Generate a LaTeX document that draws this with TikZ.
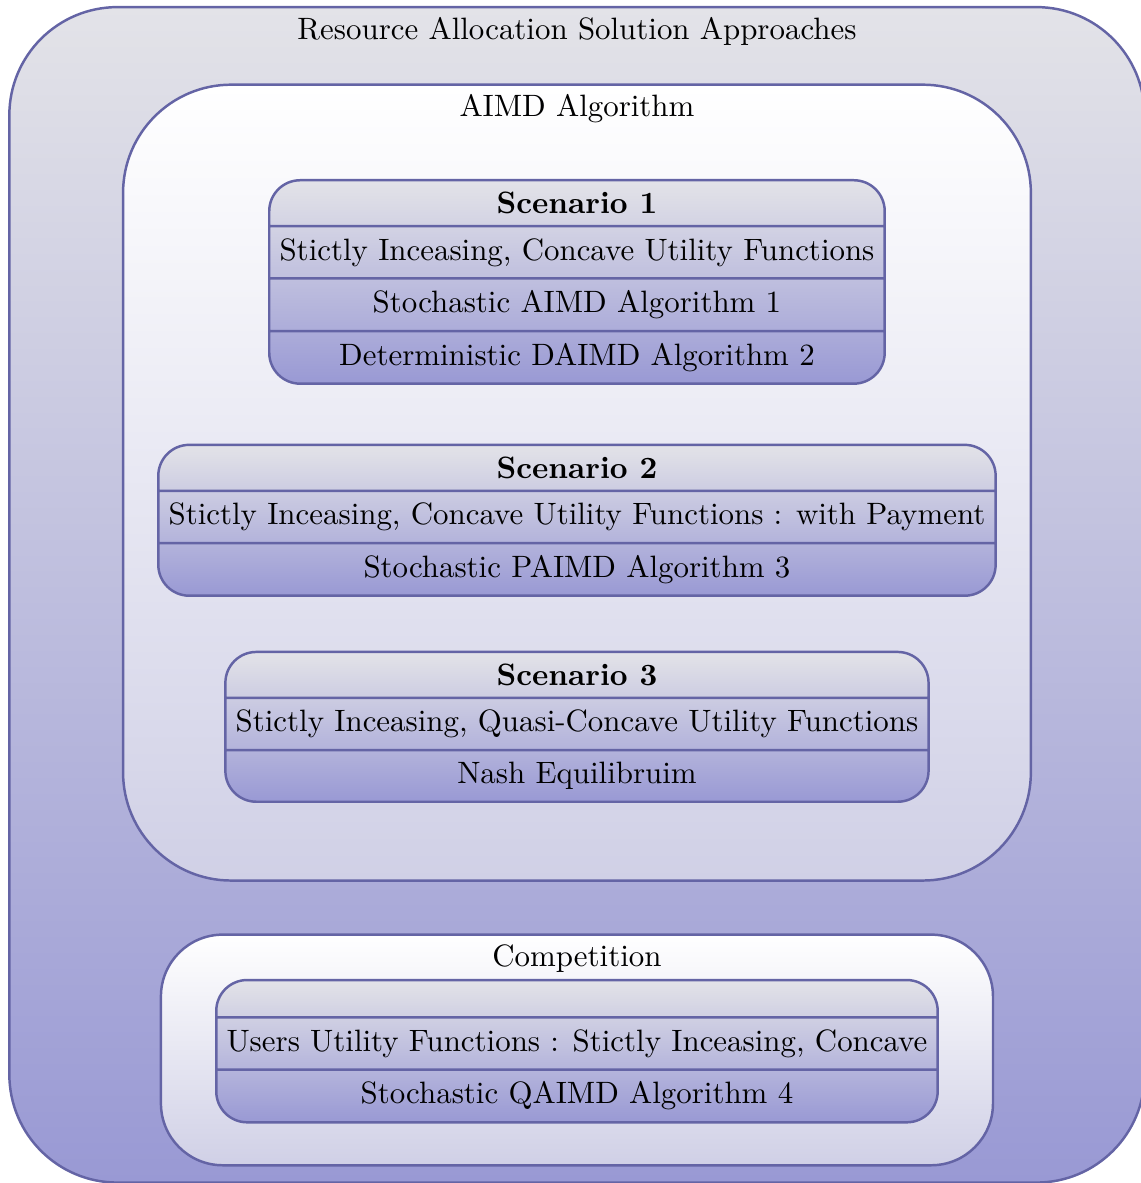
\documentclass[tikz,border=0pt]{standalone}
\usepackage{tikz}
\usetikzlibrary{positioning,fit,shapes.multipart}

\definecolor{boxtop}{RGB}{227,227,232}
\definecolor{boxbottom}{RGB}{153,153,212}
\definecolor{groupbottom}{RGB}{208,208,230}
\definecolor{boxline}{RGB}{100,100,165}

\pgfdeclarelayer{back}
\pgfdeclarelayer{mid}
\pgfsetlayers{back,mid,main}

\tikzset{
  scenario/.style={rectangle split, rectangle split parts=4, draw=boxline, thick,
    rounded corners=10pt, top color=boxtop, bottom color=boxbottom, inner ysep=3.5pt},
  group/.style={draw=boxline, thick, top color=white, bottom color=groupbottom, inner ysep=2.9pt},
  grouptitle/.style={inner sep=0pt}
}

\begin{document}
\begin{tikzpicture}[node distance=19pt]
\node[scenario] (sc_1) {\textbf{Scenario 1}
  \nodepart{two} Stictly Inceasing, Concave Utility Functions
  \nodepart{three} Stochastic AIMD Algorithm 1
  \nodepart{four} Deterministic DAIMD Algorithm 2};
\node[scenario, rectangle split parts=3] (sc_2) [below=of sc_1] {\textbf{Scenario 2}
  \nodepart{two} Stictly Inceasing, Concave Utility Functions : with Payment
  \nodepart{three} Stochastic PAIMD Algorithm 3};
\node[scenario, rectangle split parts=3] (sc_3) [below=17.4pt of sc_2] {\textbf{Scenario 3}
  \nodepart{two} Stictly Inceasing, Quasi-Concave Utility Functions
  \nodepart{three} Nash Equilibruim};
\node[grouptitle] (t_aimd) [above=18pt of sc_1] {AIMD Algorithm};
\coordinate[below=22.2pt of sc_3] (f_aimd);
\begin{pgfonlayer}{mid}
\node[group, rounded corners=35pt, inner xsep=11pt, fit=(t_aimd)(sc_2)(f_aimd)] (aimd) {};
\end{pgfonlayer}

% competition
\node[grouptitle] (t_comp) [below=20pt of aimd] {Competition};
\node[scenario, rectangle split parts=3] (sc_4) [below=2pt of t_comp] {
  \nodepart{two} Users Utility Functions : Stictly Inceasing, Concave
  \nodepart{three} Stochastic QAIMD Algorithm 4};
\coordinate[below=10.6pt of sc_4] (f_comp);
\begin{pgfonlayer}{mid}
\node[group, rounded corners=20pt, inner xsep=17.5pt, fit=(t_comp)(sc_4)(f_comp)] (comp) {};
\end{pgfonlayer}

\node[grouptitle] (t_outer) [above=12pt of aimd] {Resource Allocation Solution Approaches};
\coordinate[below=2pt of comp] (f_outer);
\begin{pgfonlayer}{back}
\node[group, top color=boxtop, bottom color=boxbottom, rounded corners=35pt,
  inner xsep=36.4pt, inner ysep=3.2pt, fit=(t_outer)(aimd)(f_outer)] (outer) {};
\end{pgfonlayer}

\pgfresetboundingbox
\useasboundingbox ([xshift=-186.7pt,yshift=1.9pt]outer.north) rectangle ++(368.9pt,-382.8pt);
\end{tikzpicture}
\end{document}
